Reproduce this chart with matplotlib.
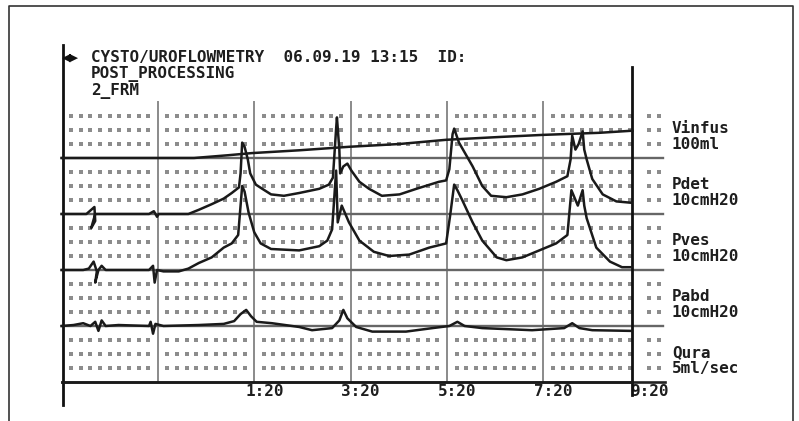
import numpy as np
import matplotlib
matplotlib.use("Agg")
import matplotlib.pyplot as plt
from matplotlib.lines import Line2D

# ---- trace data (time in s, values in channel units) ----
vinfus_t = [0, 165, 208, 237, 296, 358, 421, 479, 545, 599, 670, 711]
vinfus_ml = [0, 0, 20, 35, 55, 80, 100, 130, 150, 165, 180, 195]

pdet_t = [0, 31, 41, 42, 37, 42, 109, 115, 119, 121, 158, 171, 187, 202, 212,
          221, 223, 225, 228, 232, 235, 242, 250, 261, 277, 296, 321, 333, 338,
          342, 343, 346, 347, 351, 356, 361, 371, 383, 399, 421, 442, 470, 479,
          483, 487, 489, 495, 503, 512, 524, 535, 554, 574, 595, 616, 630, 634,
          636, 640, 644, 649, 651, 654, 661, 674, 691, 710]
pdet = [0, 0, 5, -5, -10, 0, 0, 2, -2, 0, 0, 3, 7, 11, 15,
        19, 29, 51, 48, 39, 29, 21, 18, 14, 13, 15, 18, 21, 26,
        61, 69, 46, 29, 34, 36, 31, 23, 18, 13, 14, 18, 23, 24,
        32, 57, 61, 51, 43, 34, 20, 13, 12, 14, 18, 23, 27, 39,
        56, 46, 50, 59, 46, 39, 25, 14, 9, 8]

pves_t = [0, 27, 34, 40, 44, 42, 46, 50, 55, 109, 114, 116, 119, 127, 146,
          158, 171, 187, 202, 212, 220, 222, 225, 228, 233, 240, 248, 261, 296,
          321, 331, 337, 342, 344, 349, 358, 371, 389, 408, 433, 458, 479, 484,
          489, 493, 499, 512, 524, 542, 554, 574, 595, 616, 630, 635, 643, 649,
          651, 654, 666, 683, 698, 710]
pves = [0, 0, 1, 6, -1, -9, 0, 3, 0, 0, 3, -9, 0, -1, -1,
        1, 5, 9, 16, 19, 25, 39, 60, 56, 41, 27, 19, 15, 14,
        17, 21, 29, 71, 34, 46, 34, 21, 13, 10, 11, 16, 19, 39,
        61, 57, 50, 34, 21, 9, 7, 9, 14, 19, 25, 57, 46, 57,
        46, 37, 16, 6, 2, 2]

pabd_t = [0, 15, 27, 36, 42, 46, 50, 55, 71, 109, 111, 114, 117, 127, 171,
          202, 215, 223, 230, 236, 243, 262, 296, 312, 337, 346, 351, 356, 367,
          387, 429, 462, 483, 493, 502, 524, 586, 626, 636, 645, 661, 710]
pabd = [0, 0.7, 2, 0, 3, -3.5, 4, 0, 0.7, 0, 3, -5.5, 1.5, 0, 0.7,
        1.5, 3.5, 8.5, 11.5, 7, 3, 2, -0.7, -3, -1.5, 4, 11.5, 5.5, -0.7,
        -4, -4, -1.5, 0, 3, 0, -1.5, -3, -1.5, 2, -1.5, -3, -3.5]

qura_t = [0, 710]
qura = [0, 0]

# channel: (label, scale label, baseline row, units per row)
channels = [
    ("Vinfus", "100ml", 16, 100.0),
    ("Pdet", "10cmH20", 12, 10.0),
    ("Pves", "10cmH20", 8, 10.0),
    ("Pabd", "10cmH20", 4, 10.0),
    ("Qura", "5ml/sec", 0, 5.0),
]
traces = [(vinfus_t, vinfus_ml), (pdet_t, pdet), (pves_t, pves),
          (pabd_t, pabd), (qura_t, qura)]

tick_t = [240, 360, 480, 600, 720]
tick_labels = ["1:20", "3:20", "5:20", "7:20", "9:20"]
header = ["CYSTO/UROFLOWMETRY  06.09.19 13:15  ID:", "POST_PROCESSING", "2_FRM"]
cursor_t = 711

# ---- figure: one axes over the whole canvas, strip-chart style ----
W, H = 799, 421
fig = plt.figure(figsize=(W / 100, H / 100), dpi=100)
ax = fig.add_axes([0, 0, 1, 1])
ax.set_axis_off()

px_per_s = 0.803
x0_px = 61.5
row_px = 14.0
base_px = 382
ax.set_xlim(-x0_px / px_per_s, (W - x0_px) / px_per_s)
ax.set_ylim(-(H - base_px) / row_px, base_px / row_px)

t_end = 749
fs = 11.5
mono = dict(family="DejaVu Sans Mono", fontweight="bold", color="#1e1e1e")

# dotted grid
dot_t = [t for t in range(12, 748, 12) if t % 120 != 0]
for r in range(1, 20):
    if r % 4 == 0:
        continue
    ax.plot(dot_t, [r] * len(dot_t), ls="none", marker="s", ms=2.2,
            color="#8c8c8c", mew=0)

# vertical grid lines
for t in range(120, 601, 120):
    ax.plot([t, t], [0, 20], color="#8a8a8a", lw=1.4, zorder=2)

# channel baselines
for _, _, row, _ in channels[:-1]:
    ax.plot([0, t_end], [row, row], color="#666666", lw=1.7, zorder=2)

# axes lines
ax.plot([0, t_end + 2], [0, 0], color="#222222", lw=1.9, zorder=3)
ax.plot([1.5, 1.5], [-1.65, 24.1], color="#111111", lw=2.0, zorder=3)
ax.plot([cursor_t, cursor_t], [-0.95, 22.5], color="#111111", lw=2.0, zorder=4)

# traces
for (name, unit, row, scale), (tt, vv) in zip(channels, traces):
    yy = row + np.asarray(vv, dtype=float) / scale
    ax.plot(tt, yy, color="#1a1a1a", lw=1.8, solid_joinstyle="round", zorder=5)
    ax.text(760, row + 2.12, name, fontsize=fs, ha="left", va="center", **mono)
    ax.text(760, row + 0.97, unit, fontsize=fs, ha="left", va="center", **mono)

# time labels
for t, lab in zip(tick_t, tick_labels):
    ax.text(t + 12.5, -0.66, lab, fontsize=fs, ha="center", va="center", **mono)

# header
for i, line in enumerate(header):
    ax.text(36.5, 23.2 - 1.22 * i, line, fontsize=fs, ha="left",
            va="center", **mono)
ax.text(11.5, 23.2, "\u25c0\u25b6", fontsize=8, ha="center", va="center",
        color="#111111", family="DejaVu Sans")

# outer frame of the scanned figure
fx0, fx1, fy1 = 9 / W, 793 / W, 1 - 6 / H
fig.add_artist(Line2D([fx0, fx0, fx1, fx1], [0, fy1, fy1, 0],
                      color="#333333", lw=1.2, transform=fig.transFigure))

fig.savefig("out.png", dpi=100)
